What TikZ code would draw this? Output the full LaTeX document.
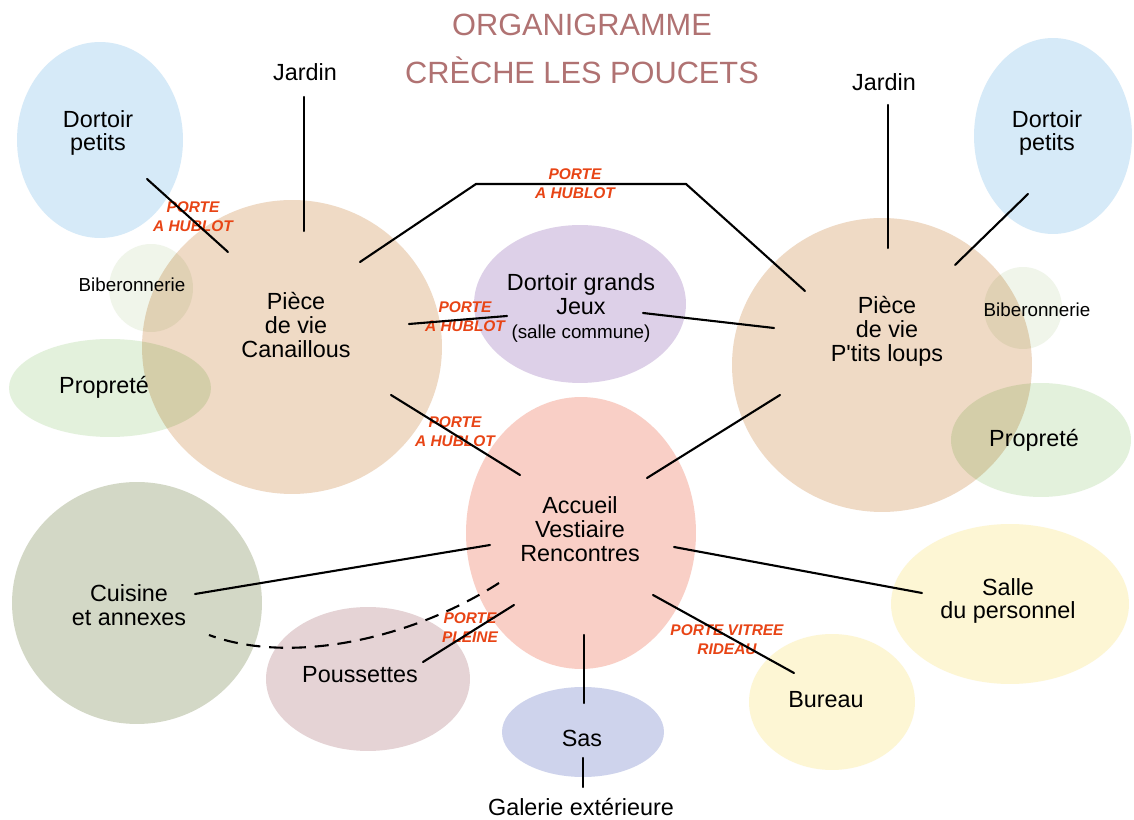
\documentclass[tikz,border=0pt]{standalone}
\usepackage{fontspec}
\setmainfont{Liberation Sans}[Ligatures=TeXOff]
\usetikzlibrary{shapes.geometric,calc}

\definecolor{bleu}{HTML}{D6EAF8}
\definecolor{peche}{HTML}{EFDAC5}
\definecolor{vertclair}{HTML}{E3F1DC}
\definecolor{vertpale}{HTML}{F0F5EA}
\definecolor{lavande}{HTML}{DDD0E8}
\definecolor{saumon}{HTML}{F9CFC6}
\definecolor{kaki}{HTML}{D3D8C6}
\definecolor{vieuxrose}{HTML}{E5D3D5}
\definecolor{pervenche}{HTML}{CED3EC}
\definecolor{jaune}{HTML}{FDF6D4}
\definecolor{titrecol}{HTML}{B07272}
\definecolor{portecol}{HTML}{E84415}

\tikzset{
  room/.style={ellipse, inner sep=0pt, draw=none, fill=#1},
  lbl/.style={align=center, inner sep=1pt, font=\fontsize{13.3}{13.6}\selectfont},
  petit/.style={align=center, inner sep=1pt, font=\fontsize{10.7}{12}\selectfont},
  porte/.style={align=center, inner sep=0pt, text=portecol, font=\fontsize{8.8}{10.8}\selectfont\bfseries\itshape},
  titre/.style={align=center, text=titrecol, font=\fontsize{17.5}{27.2}\selectfont},
  link/.style={line width=1.2pt, line cap=round},
}

\begin{document}
\begin{tikzpicture}[x=0.02cm, y=-0.02cm]
  \fill[white] (0,0) rectangle (1134,820);
  \useasboundingbox (0,0) rectangle (1134,820);

  % pieces
  \begin{scope}[blend mode=multiply]
    \node[room=bleu, minimum width=3.32cm, minimum height=3.92cm] (dortg) at (100,140) {};
    \node[room=vertpale, minimum width=1.68cm, minimum height=1.76cm] (bibg) at (151,288) {};
    \node[room=peche, minimum width=6cm, minimum height=5.88cm] (canail) at (292,347) {};
    \node[room=vertclair, minimum width=4.04cm, minimum height=1.96cm] (propg) at (110,388) {};
    \node[room=lavande, minimum width=4.24cm, minimum height=3.16cm] (dgrands) at (580,304) {};
    \node[room=peche, minimum width=6cm, minimum height=5.88cm] (loups) at (882,365) {};
    \node[room=bleu, minimum width=3.16cm, minimum height=3.92cm] (dortd) at (1053,136) {};
    \node[room=vertpale, minimum width=1.56cm, minimum height=1.64cm] (bibd) at (1023,308) {};
    \node[room=vertclair, minimum width=3.6cm, minimum height=2.28cm] (propd) at (1041,440) {};
    \node[room=saumon, minimum width=4.6cm, minimum height=5.44cm] (accueil) at (581,533) {};
    \node[room=kaki, minimum width=5cm, minimum height=4.84cm] (cuisine) at (137,603) {};
    \node[room=vieuxrose, minimum width=4.08cm, minimum height=2.88cm] (pouss) at (368,679) {};
    \node[room=pervenche, minimum width=3.24cm, minimum height=1.8cm] (sas) at (583,732) {};
    \node[room=jaune, minimum width=3.32cm, minimum height=2.72cm] (bureau) at (832,702) {};
    \node[room=jaune, minimum width=4.76cm, minimum height=3.2cm] (salle) at (1010,604) {};
  \end{scope}

  % textes
  \node[titre] (titre) at (582,49) {ORGANIGRAMME\\CRÈCHE LES POUCETS};
  \node[lbl] (jardg) at (305,72) {Jardin};
  \node[lbl] (jardd) at (884,82) {Jardin};
  \node[lbl] (t-dortg) at (98,133) {Dortoir\\petits};
  \node[lbl] (t-dortd) at (1047,133) {Dortoir\\petits};
  \node[petit] (t-bibg) at (132,285) {Biberonnerie};
  \node[petit] (t-bibd) at (1037,310) {Biberonnerie};
  \node[lbl] (t-canail) at (296,325) {Pièce\\de vie\\Canaillous};
  \node[lbl] (t-loups) at (887,331) {Pièce\\de vie\\P'tits loups};
  \node[lbl] (t-propg) at (104,387) {Propreté};
  \node[lbl] (t-propd) at (1034,440) {Propreté};
  \node[lbl] (t-dgrands) at (581,308) {Dortoir grands\\Jeux\\{\fontsize{10.7}{13.6}\selectfont (salle commune)}};
  \node[lbl] (t-accueil) at (580,529) {Accueil\\Vestiaire\\Rencontres};
  \node[lbl] (t-cuisine) at (129,605) {Cuisine\\et annexes};
  \node[lbl] (t-pouss) at (360,675) {Poussettes};
  \node[lbl] (t-salle) at (1008,601) {Salle\\du personnel};
  \node[lbl] (t-bureau) at (826,700) {Bureau};
  \node[lbl] (t-sas) at (582,738) {Sas};
  \node[lbl] (galerie) at (581,807) {Galerie extérieure};

  % portes
  \node[porte] (p-dortg) at (193,217) {PORTE\\A HUBLOT};
  \node[porte] (p-haut) at (575,184) {PORTE\\A HUBLOT};
  \node[porte] (p-dgr) at (465,317) {PORTE\\A HUBLOT};
  \node[porte] (p-acc) at (455,432) {PORTE\\A HUBLOT};
  \node[porte] (p-pleine) at (470,628) {PORTE\\PLEINE};
  \node[porte] (p-vitree) at (727,640) {PORTE VITREE\\RIDEAU};

  % liaisons
  \draw[link] ($(dortg.center)+(47,39)$) -- ($(canail.center)+(-64,-95)$);
  \draw[link] ($(jardg.center)+(-1,25)$) -- ($(canail.center)+(12,-116)$);
  \draw[link] ($(canail.center)+(68,-85)$) -- ($(p-haut.center)+(-99,0)$)
    -- ($(p-haut.center)+(111,0)$) -- ($(loups.center)+(-77,-74)$);
  \draw[link] ($(canail.center)+(117,-23)$) -- ($(dgrands.center)+(-73,12)$);
  \draw[link] ($(dgrands.center)+(63,9)$) -- ($(loups.center)+(-108,-37)$);
  \draw[link] ($(canail.center)+(99,48)$) -- ($(accueil.center)+(-61,-58)$);
  \draw[link] ($(loups.center)+(-102,30)$) -- ($(accueil.center)+(66,-55)$);
  \draw[link] ($(jardd.center)+(4,23)$) -- ($(loups.center)+(6,-117)$);
  \draw[link] ($(loups.center)+(73,-100)$) -- ($(dortd.center)+(-25,58)$);
  \draw[link] ($(accueil.center)+(-91,12)$) -- ($(cuisine.center)+(58,-9)$);
  \draw[link, line cap=butt, dash pattern=on 8pt off 5pt] ($(accueil.center)+(-82,50)$)
    .. controls +(-89,57) and +(81,30) .. ($(cuisine.center)+(72,32)$);
  \draw[link] ($(accueil.center)+(-67,72)$) -- ($(pouss.center)+(55,-17)$);
  \draw[link] ($(accueil.center)+(93,14)$) -- ($(salle.center)+(-88,-11)$);
  \draw[link] ($(accueil.center)+(72,62)$) -- ($(bureau.center)+(-38,-29)$);
  \draw[link] ($(accueil.center)+(3,102)$) -- ($(sas.center)+(1,-29)$);
  \draw[link] ($(sas.center)+(0,26)$) -- ($(galerie.center)+(2,-20)$);
\end{tikzpicture}
\end{document}
